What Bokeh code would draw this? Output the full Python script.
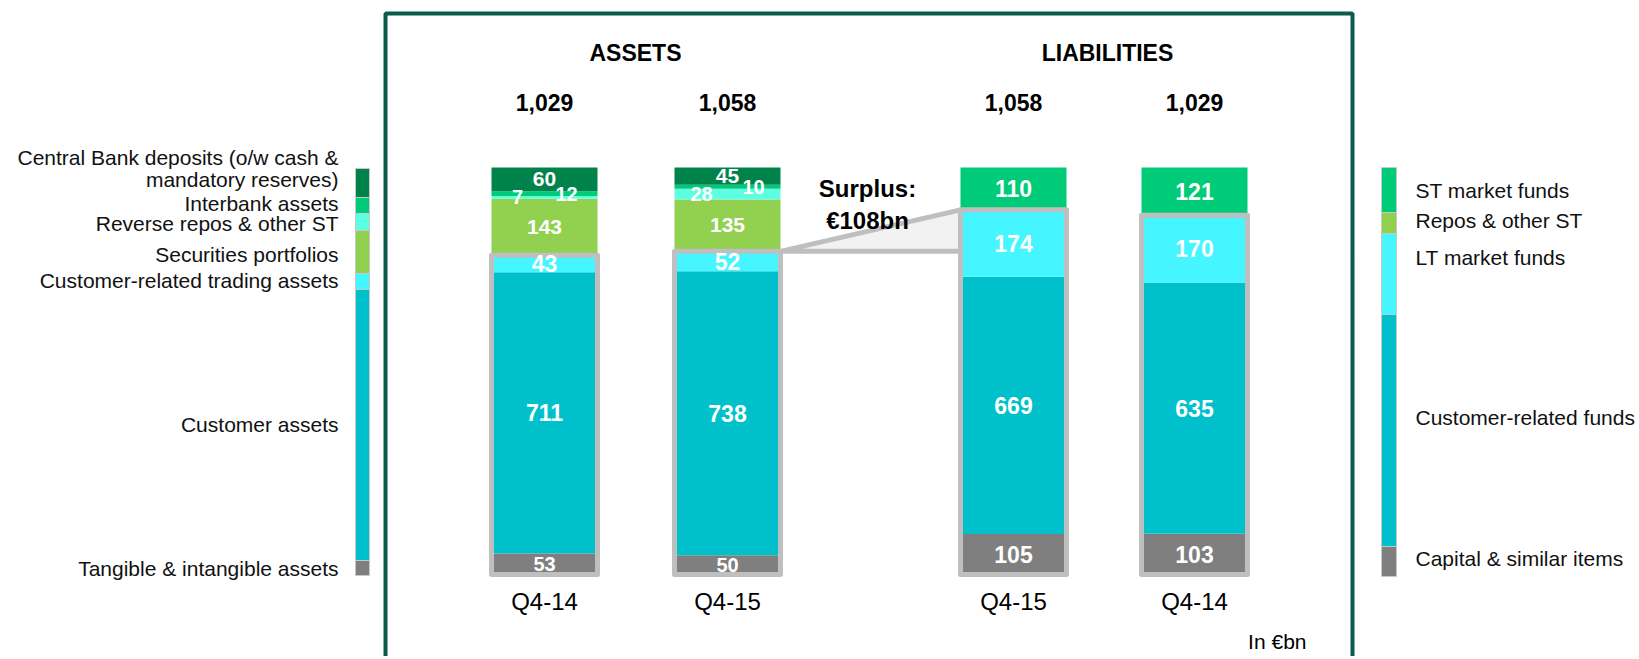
import numpy as np
from bokeh.plotting import figure
from bokeh.models import Range1d, ColumnDataSource
from bokeh.embed import file_html
from bokeh.resources import INLINE
from bokeh.core.properties import value, field

# ---------------- data ----------------
group_titles = ["ASSETS", "LIABILITIES"]
bar_periods = ["Q4-14", "Q4-15", "Q4-15", "Q4-14"]

# stacked bottom -> top
asset_categories = [
    "Tangible & intangible assets",
    "Customer assets",
    "Customer-related trading assets",
    "Securities portfolios",
    "Reverse repos & other ST",
    "Interbank assets",
    "Central Bank deposits (o/w cash & mandatory reserves)",
]
asset_q4_14 = [53, 711, 43, 143, 7, 12, 60]
asset_q4_15 = [50, 738, 52, 135, 28, 10, 45]

liability_categories = [
    "Capital & similar items",
    "Customer-related funds",
    "LT market funds",
    "Repos & other ST",
    "ST market funds",
]
liability_q4_15 = [105, 669, 174, 0, 110]
liability_q4_14 = [103, 635, 170, 0, 121]

boxed_count = 3          # bottom three items are framed in grey
unit_note = "In €bn"

# ---------------- styles ----------------
FONT = value("Liberation Sans")
ASSET_COLORS = ["#7F7F7F", "#00C1CB", "#45F5FF", "#92D050", "#5CFFE1", "#00CB79", "#00834B"]
LIAB_COLORS = ["#7F7F7F", "#00C1CB", "#45F5FF", "#92D050", "#00CB79"]
BOX_GREY = "#BFBFBF"
FRAME_GREEN = "#0B5B4B"
ASSET_LABEL_SIZE = ["20px", "23px", "23px", "21px", "20px", "20px", "21px"]
LIAB_LABEL_SIZE = ["23px"] * 5
ASSET_DX = [[0, 0, 0, 0, -27, 22, 0], [0, 0, 0, 0, -26, 26, 0]]
LIAB_DX = [0, 0, 0, 0, 0]

# ---------------- layout (window pixels) ----------------
W, H = 1636, 656
BAR_X = [544, 727, 1013, 1194]
BAR_W = 106
BAR_BASE_Y, BAR_TOP_Y = 574, 167
TITLE_X, TITLE_Y = [635, 1107], 52
TOTAL_Y, PERIOD_Y = 102, 601
FRAME = dict(left=385, right=1352, top=13, bottom=720)
SURPLUS_X, SURPLUS_Y = [867, 867], [188, 220]
NOTE_X, NOTE_Y = 1306, 641

LEFT_KEY_X, LEFT_KEY_W = 362, 14
LEFT_KEY_PX = [15, 271, 16, 43, 17, 16, 29]        # legend key heights (bottom->top)
LEFT_KEY_BASE = 575
LEFT_TEXT_X = 338
LEFT_TEXT_Y = [568, 424, 280, 254, 223, 203, (157, 179)]
LEFT_LINES = [
    ["Tangible & intangible assets"],
    ["Customer assets"],
    ["Customer-related trading assets"],
    ["Securities portfolios"],
    ["Reverse repos & other ST"],
    ["Interbank assets"],
    ["Central Bank deposits (o/w cash &", "mandatory reserves)"],
]
RIGHT_KEY_X, RIGHT_KEY_W = 1388.5, 15
RIGHT_KEY_PX = [30, 232, 81, 21, 45]
RIGHT_KEY_BASE = 576
RIGHT_TEXT_X = 1415
RIGHT_TEXT_Y = [558, 417, 257, 220, 190]

# ---------------- figure ----------------
p = figure(width=W, height=H, x_range=Range1d(0, W), y_range=Range1d(H, 0),
           x_axis_type=None, y_axis_type=None, output_backend="svg",
           toolbar_location=None, min_border=0)
p.grid.visible = False
p.outline_line_color = None
p.background_fill_color = "white"

bars = [
    (asset_q4_14, ASSET_COLORS, ASSET_LABEL_SIZE, ASSET_DX[0]),
    (asset_q4_15, ASSET_COLORS, ASSET_LABEL_SIZE, ASSET_DX[1]),
    (liability_q4_15, LIAB_COLORS, LIAB_LABEL_SIZE, LIAB_DX),
    (liability_q4_14, LIAB_COLORS, LIAB_LABEL_SIZE, LIAB_DX),
]

# one value-scale per balance-sheet total so every bar spans the same height
span = BAR_BASE_Y - BAR_TOP_Y
totals = sorted({sum(b[0]) for b in bars})
p.extra_y_ranges = {
    f"t{T}": Range1d(start=(BAR_BASE_Y - H) * T / span, end=BAR_BASE_Y * T / span)
    for T in totals
}

# frame
p.quad(left=[FRAME["left"]], right=[FRAME["right"]], top=[FRAME["top"]], bottom=[FRAME["bottom"]],
       fill_alpha=0, line_color=FRAME_GREEN, line_width=4)

# surplus wedge between the framed blocks of the two Q4-15 bars
a15_boxed = sum(asset_q4_15[:boxed_count])
l15_boxed = sum(liability_q4_15[:boxed_count])
surplus = l15_boxed - a15_boxed
rng15 = f"t{sum(asset_q4_15)}"
xa = BAR_X[1] + BAR_W / 2
xl = BAR_X[2] - BAR_W / 2
p.patch([xa, xl, xl], [a15_boxed, l15_boxed, a15_boxed], fill_color="#F2F2F2",
        line_color=BOX_GREY, line_width=5, line_join="round", y_range_name=rng15)

for bx, (vals, cols, sizes, dx) in zip(BAR_X, bars):
    vals = np.array(vals, dtype=float)
    T = int(vals.sum())
    rn = f"t{T}"
    tops = np.cumsum(vals)
    bottoms = tops - vals
    keep = vals > 0
    src = ColumnDataSource(dict(
        x=[bx] * int(keep.sum()),
        bottom=bottoms[keep], top=tops[keep],
        color=[c for c, k in zip(cols, keep) if k],
    ))
    p.vbar(x="x", width=BAR_W, bottom="bottom", top="top", fill_color="color",
           line_color=None, source=src, y_range_name=rn)
    # grey frame around the customer-related block
    p.quad(left=[bx - BAR_W / 2], right=[bx + BAR_W / 2], bottom=[0], top=[tops[boxed_count - 1]],
           fill_alpha=0, line_color=BOX_GREY, line_width=5, line_join="round", y_range_name=rn)
    lab = ColumnDataSource(dict(
        x=[bx + d for d, k in zip(dx, keep) if k],
        y=((bottoms + tops) / 2)[keep],
        text=[f"{int(v)}" for v in vals[keep]],
        size=[s for s, k in zip(sizes, keep) if k],
    ))
    p.text(x="x", y="y", text="text", source=lab, y_range_name=rn, text_font=FONT,
           text_font_style="bold", text_font_size=field("size"), text_color="white",
           text_align="center", text_baseline="middle")
    # total above the bar
    p.text(x=[bx], y=[TOTAL_Y], text=[f"{T:,}"], text_font=FONT, text_font_style="bold",
           text_font_size="23px", text_color="black", text_align="center", text_baseline="middle")

p.text(x=BAR_X, y=[PERIOD_Y] * 4, text=bar_periods, text_font=FONT, text_font_size="24px",
       text_color="black", text_align="center", text_baseline="middle")
p.text(x=TITLE_X, y=[TITLE_Y] * 2, text=group_titles, text_font=FONT, text_font_style="bold",
       text_font_size="23px", text_color="black", text_align="center", text_baseline="middle")
p.text(x=SURPLUS_X, y=SURPLUS_Y, text=["Surplus:", f"€{surplus}bn"], text_font=FONT,
       text_font_style="bold", text_font_size="24px", text_color="black",
       text_align="center", text_baseline="middle")
p.text(x=[NOTE_X], y=[NOTE_Y], text=[unit_note], text_font=FONT, text_font_size="21px",
       text_color="black", text_align="right", text_baseline="middle")

# ---------------- legends ----------------
def key_strip(xc, w, heights, base, colors):
    h = np.array(heights, dtype=float)
    tops = base - np.cumsum(h)
    bots = tops + h
    p.quad(left=[xc - w / 2] * len(h), right=[xc + w / 2] * len(h), top=list(tops),
           bottom=list(bots), fill_color=colors, line_color="#C8C8C8", line_width=1)

key_strip(LEFT_KEY_X, LEFT_KEY_W, LEFT_KEY_PX, LEFT_KEY_BASE, ASSET_COLORS)
key_strip(RIGHT_KEY_X, RIGHT_KEY_W, RIGHT_KEY_PX, RIGHT_KEY_BASE, LIAB_COLORS)

lx, ly, lt = [], [], []
for lines, ys in zip(LEFT_LINES, LEFT_TEXT_Y):
    ys = ys if isinstance(ys, tuple) else (ys,)
    for t, y in zip(lines, ys):
        lx.append(LEFT_TEXT_X); ly.append(y); lt.append(t)
p.text(x=lx, y=ly, text=lt, text_font=FONT, text_font_size="21px", text_color="#111111",
       text_align="right", text_baseline="middle")
p.text(x=[RIGHT_TEXT_X] * len(liability_categories), y=RIGHT_TEXT_Y, text=liability_categories,
       text_font=FONT, text_font_size="21px", text_color="#111111",
       text_align="left", text_baseline="middle")

open("out.html", "w").write(file_html(p, INLINE))
